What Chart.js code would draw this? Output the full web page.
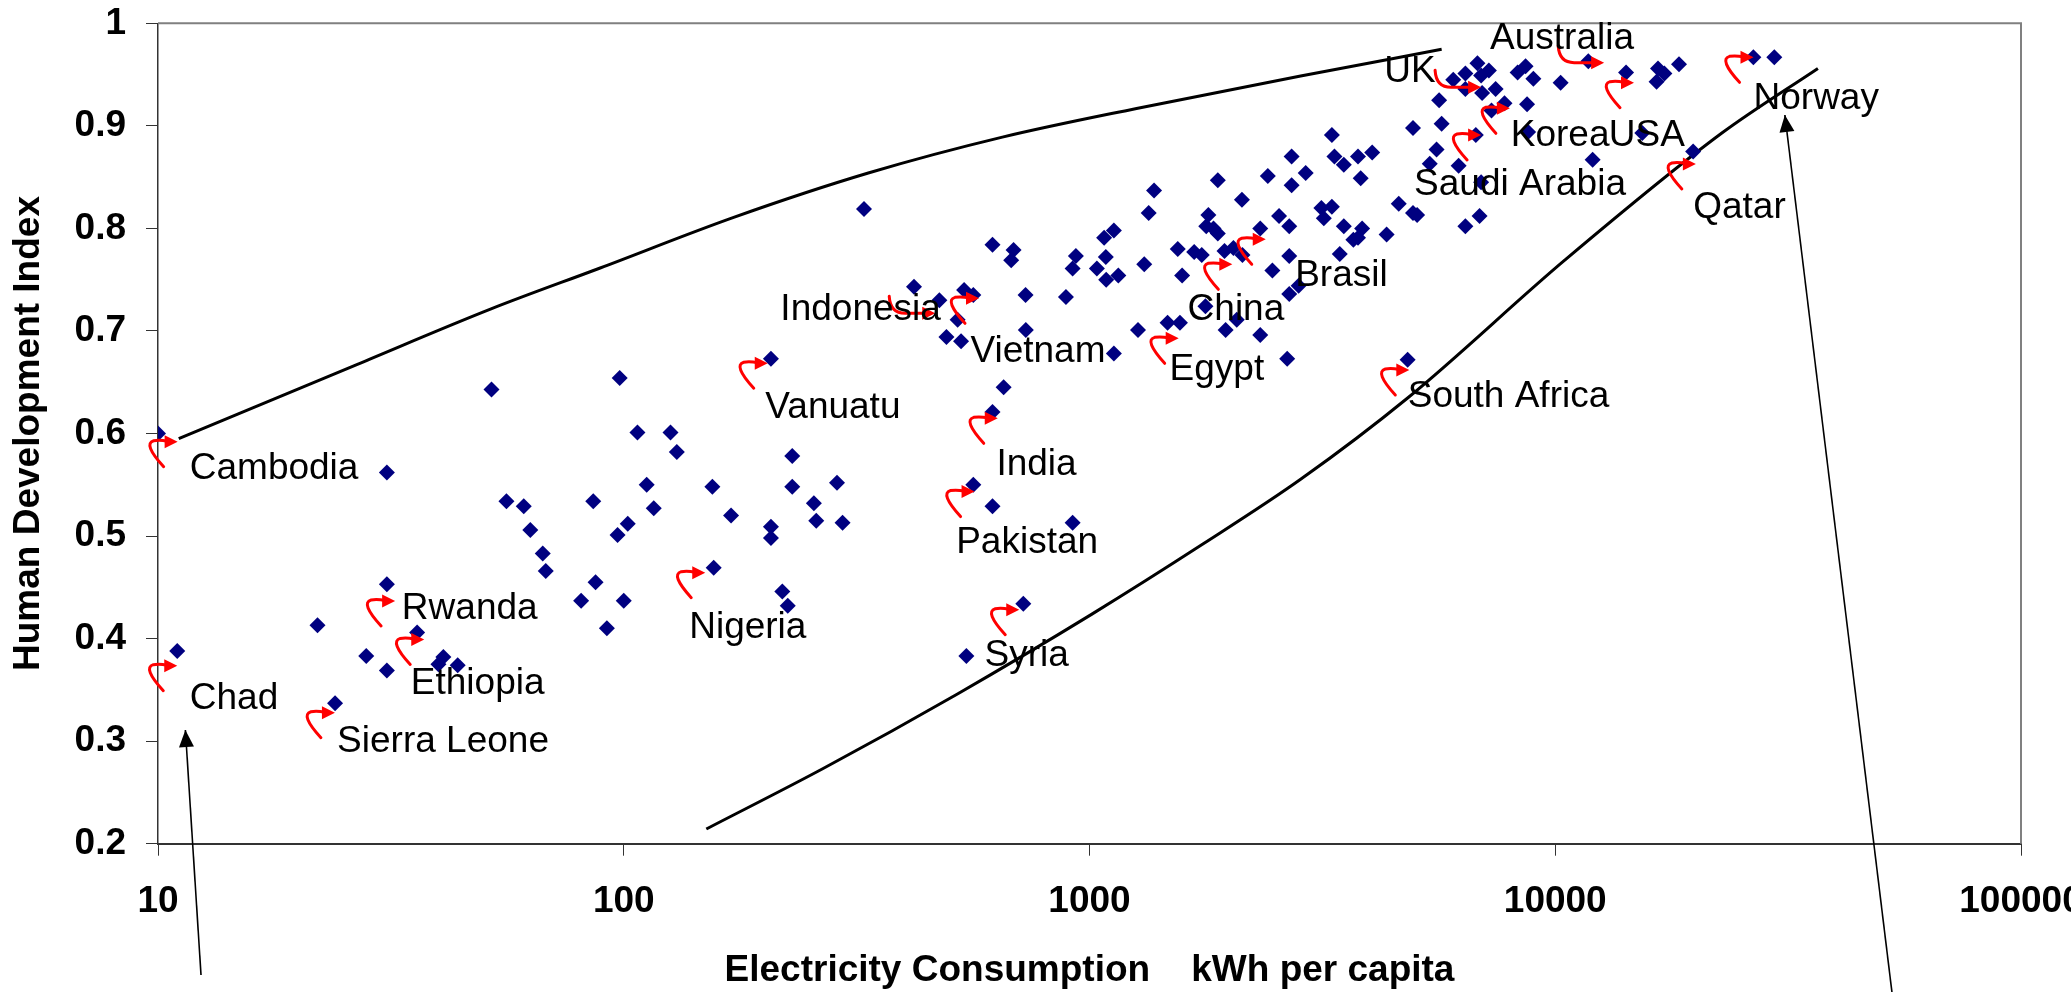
<!DOCTYPE html>
<html>
<head>
<meta charset="utf-8">
<script src="https://cdn.jsdelivr.net/npm/chart.js@4/dist/chart.umd.min.js"></script>
<style>
html,body{margin:0;padding:0;background:#fff;overflow:hidden;}
#wrap{width:2071px;height:992px;position:relative;}
</style>
</head>
<body>
<div id="wrap"><canvas id="c" width="2071" height="992"></canvas></div>
<script>
// ---- data ----
const consumption = [10,11,22,24,28,31,31,31,36,40,41,44,52,56,61,63,67,68,81,86,87,92,97,98,100,102,107,112,116,126,130,155,156,170,207,207,207,219,225,230,230,256,259,287,295,328,
420,476,493,521,530,538,544,563,563,619,619,619,654,679,687,721,729,730,890,920,920,935,1037,1075,1084,1086,1128,1128,1153,1271,1311,1340,1376,1471,1547,1564,1581,1678,1742,1774,1781,1800,1846,1886,1886,1949,1960,2037,2071,2125,2130,2326,2326,2415,2470,2553,2657,2685,2685,2685,2716,2716,2812,2912,3147,3185,3314,3314,3357,3446,3516,3516,3686,3771,3771,3822,3849,4045,4344,4613,4820,4950,4950,5052,5377,5562,5632,5703,6040,6202,6412,6412,6412,6752,6806,6878,6931,6931,6966,7203,7296,7447,7781,8302,8634,8699,8746,8975,10270,11775,12030,14190,15380,16500,16620,17150,18440,19770,26630,29540];
const hdi = [0.600,0.388,0.413,0.337,0.383,0.369,0.453,0.562,0.406,0.375,0.382,0.374,0.643,0.534,0.529,0.506,0.483,0.466,0.437,0.534,0.455,0.410,0.501,0.654,0.437,0.512,0.601,0.550,0.527,0.601,0.582,0.548,0.469,0.520,0.509,0.498,0.673,0.446,0.432,0.578,0.548,0.532,0.515,0.552,0.513,0.819,
0.743,0.730,0.694,0.711,0.690,0.740,0.383,0.735,0.550,0.784,0.621,0.529,0.645,0.769,0.779,0.434,0.735,0.701,0.733,0.761,0.513,0.773,0.761,0.791,0.772,0.750,0.798,0.678,0.754,0.701,0.765,0.815,0.837,0.708,0.780,0.708,0.754,0.777,0.774,0.724,0.802,0.813,0.800,0.795,0.847,0.778,0.701,0.781,0.711,0.828,0.774,0.696,0.800,0.851,0.759,0.812,0.673,0.802,0.773,0.736,0.870,0.842,0.744,0.854,0.820,0.810,0.891,0.821,0.870,0.775,0.862,0.802,0.789,0.870,0.791,0.849,0.800,0.874,0.794,0.824,0.672,0.898,0.815,0.813,0.863,0.877,0.925,0.902,0.945,0.861,0.951,0.936,0.802,0.891,0.961,0.812,0.949,0.845,0.932,0.954,0.915,0.936,0.922,0.952,0.958,0.921,0.894,0.946,0.942,0.963,0.867,0.952,0.893,0.943,0.956,0.951,0.960,0.875,0.967,0.967];

const xTickValues = [10, 100, 1000, 10000, 100000];
const yTickValues = [0.2, 0.3, 0.4, 0.5, 0.6, 0.7, 0.8, 0.9, 1.0];

// envelope curves (hand-read)
const upperX = [11.08, 26.8, 51.9, 89, 172.8, 335, 650, 1262, 2840, 5703];
const upperY = [0.595, 0.6675, 0.7215, 0.7614, 0.811, 0.854, 0.889, 0.917, 0.9486, 0.9746];
const lowerX = [150.4, 268, 520.6, 1010, 1755, 2840, 4820, 10480, 22790, 36640];
const lowerY = [0.2143, 0.2733, 0.346, 0.4236, 0.4924, 0.5553, 0.6346, 0.769, 0.893, 0.956];

// black pointer arrows (tail -> tip)
const chadArrowX = [12.37, 11.45];
const chadArrowY = [0.072, 0.3109];
const norwayArrowX = [52830, 31120];
const norwayArrowY = [0.0554, 0.9106];

// country annotations
const labelNames = ['Cambodia','Chad','Sierra Leone','Rwanda','Ethiopia','Nigeria','Vanuatu','Indonesia','Vietnam','India','Pakistan','Syria','Egypt','China','Brasil','South Africa','Saudi Arabia','Korea','USA','UK','Australia','Qatar','Norway'];
const labelX = [11.70,11.70,24.24,33.39,34.9,138.2,201.4,216.9,555.1,631.2,517.3,595,1486,1624,2764,4822,4977,8024,13030,4292,7244,19780,26650];
const labelY = [0.5556,0.3318,0.2898,0.4187,0.3463,0.4006,0.6148,0.7107,0.6702,0.5595,0.4832,0.3728,0.6525,0.7107,0.7438,0.6255,0.8321,0.8803,0.8803,0.9428,0.9754,0.8097,0.9169];
const hookX = [11.02,11.0,23.98,32.29,37.29,149.6,203.8,466.4,579.1,635.3,566.5,706.6,1554,2026,2390,4860,6931,7990,14760,6931,12735,20040,26650];
const hookY = [0.592,0.3736,0.3277,0.4367,0.3992,0.4643,0.6685,0.7172,0.7318,0.6148,0.5434,0.4282,0.6928,0.765,0.7894,0.6619,0.8911,0.9171,0.9421,0.9376,0.9616,0.8628,0.9668];
const hookKind = ['hook','hook','hook','hook','hook','hook','hook','drop','hook','hook','hook','hook','hook','hook','hook','hook','hook','hook','hook','drop','drop','hook','hook'];

// ---- chart ----
const FONT = '"Liberation Sans", Arial, Helvetica, sans-serif';
const pairs = (xs, ys) => xs.map((x, i) => ({x: x, y: ys[i]}));

const framePlugin = {
  id: 'frame',
  beforeDatasetsDraw(chart) {
    const {ctx, chartArea: a} = chart;
    ctx.save();
    ctx.strokeStyle = '#808080';
    ctx.lineWidth = 2;
    ctx.beginPath();
    ctx.moveTo(a.left, a.top);
    ctx.lineTo(a.right, a.top);
    ctx.lineTo(a.right, a.bottom);
    ctx.stroke();
    ctx.restore();
  }
};

const arrowHeadPlugin = {
  id: 'arrowHeads',
  afterDatasetsDraw(chart) {
    const ctx = chart.ctx;
    chart.data.datasets.forEach((ds, i) => {
      if (!ds.arrowHead) return;
      const pts = chart.getDatasetMeta(i).data;
      const p0 = pts[pts.length - 2], p1 = pts[pts.length - 1];
      const ang = Math.atan2(p1.y - p0.y, p1.x - p0.x);
      const L = 17, W = 7.5;
      ctx.save();
      ctx.fillStyle = '#000';
      ctx.translate(p1.x, p1.y);
      ctx.rotate(ang);
      ctx.beginPath();
      ctx.moveTo(0, 0);
      ctx.lineTo(-L, -W);
      ctx.lineTo(-L, W);
      ctx.closePath();
      ctx.fill();
      ctx.restore();
    });
  }
};

const annotationPlugin = {
  id: 'countryNotes',
  afterDatasetsDraw(chart) {
    const ctx = chart.ctx;
    const xs = chart.scales.x, ys = chart.scales.y;
    ctx.save();
    // red curved arrows
    ctx.strokeStyle = '#ff0000';
    ctx.fillStyle = '#ff0000';
    ctx.lineWidth = 3;
    ctx.lineCap = 'round';
    ctx.lineJoin = 'round';
    hookX.forEach((hx, i) => {
      const tx = xs.getPixelForValue(hx);
      const ty = ys.getPixelForValue(hookY[i]);
      ctx.beginPath();
      if (hookKind[i] === 'drop') {
        ctx.moveTo(tx - 46, ty - 17);
        ctx.quadraticCurveTo(tx - 45, ty, tx - 30, ty);
        ctx.lineTo(tx - 10, ty);
      } else {
        ctx.moveTo(tx - 14, ty + 25);
        ctx.quadraticCurveTo(tx - 35, ty + 2, tx - 24, ty - 1);
        ctx.quadraticCurveTo(tx - 18, ty - 2, tx - 10, ty - 0.5);
      }
      ctx.stroke();
      ctx.beginPath();
      ctx.moveTo(tx, ty);
      ctx.lineTo(tx - 13, ty - 6.5);
      ctx.lineTo(tx - 13, ty + 6.5);
      ctx.closePath();
      ctx.fill();
    });
    // labels
    ctx.fillStyle = '#000';
    ctx.font = '37px ' + FONT;
    ctx.textAlign = 'left';
    ctx.textBaseline = 'alphabetic';
    labelNames.forEach((name, i) => {
      ctx.fillText(name, xs.getPixelForValue(labelX[i]), ys.getPixelForValue(labelY[i]));
    });
    ctx.restore();
  }
};

new Chart(document.getElementById('c'), {
  type: 'scatter',
  data: {
    datasets: [
      {
        label: 'Countries',
        data: pairs(consumption, hdi),
        pointStyle: 'rectRot',
        pointRadius: 8,
        pointHoverRadius: 8,
        backgroundColor: '#000080',
        borderColor: '#000080',
        borderWidth: 0,
        showLine: false
      },
      {
        label: 'upper', data: pairs(upperX, upperY), showLine: true, pointRadius: 0,
        borderColor: '#000', borderWidth: 3, cubicInterpolationMode: 'monotone', fill: false
      },
      {
        label: 'lower', data: pairs(lowerX, lowerY), showLine: true, pointRadius: 0,
        borderColor: '#000', borderWidth: 3, cubicInterpolationMode: 'monotone', fill: false
      },
      {
        label: 'chad', data: pairs(chadArrowX, chadArrowY), showLine: true, pointRadius: 0,
        borderColor: '#000', borderWidth: 1.6, clip: false, arrowHead: true
      },
      {
        label: 'norway', data: pairs(norwayArrowX, norwayArrowY), showLine: true, pointRadius: 0,
        borderColor: '#000', borderWidth: 1.6, clip: false, arrowHead: true
      }
    ]
  },
  options: {
    responsive: false,
    devicePixelRatio: 1,
    animation: false,
    events: [],
    layout: { padding: { left: 0, top: 23.3, right: 50, bottom: 0 } },
    plugins: {
      legend: { display: false },
      tooltip: { enabled: false }
    },
    scales: {
      x: {
        type: 'logarithmic',
        position: 'bottom',
        min: 10,
        max: 100000,
        afterBuildTicks: (s) => { s.ticks = xTickValues.map(v => ({ value: v })); },
        afterFit: (s) => { s.height = 148.3; s.paddingLeft = 0; s.paddingRight = 0; },
        ticks: {
          autoSkip: false, maxRotation: 0, minRotation: 0,
          padding: 24,
          color: '#000',
          font: { family: FONT, size: 37, weight: 'bold' },
          callback: (v) => String(v)
        },
        grid: { display: true, drawOnChartArea: false, drawTicks: true, tickLength: 12, color: '#333', lineWidth: 1 },
        border: { display: true, color: '#333', width: 2 },
        title: {
          display: true,
          text: 'Electricity Consumption    kWh per capita',
          color: '#000',
          font: { family: FONT, size: 37, weight: 'bold', lineHeight: 1.13 },
          padding: { top: 0, bottom: 0 }
        }
      },
      y: {
        type: 'linear',
        min: 0.2,
        max: 1,
        afterBuildTicks: (s) => { s.ticks = yTickValues.map(v => ({ value: v })); },
        afterFit: (s) => { s.width = 158; s.paddingTop = 0; s.paddingBottom = 0; },
        ticks: {
          padding: 20,
          color: '#000',
          font: { family: FONT, size: 37, weight: 'bold' },
          callback: (v) => String(+Number(v).toFixed(1))
        },
        grid: { display: true, drawOnChartArea: false, drawTicks: true, tickLength: 12, color: '#333', lineWidth: 1 },
        border: { display: true, color: '#333', width: 1.5 },
        title: {
          display: true,
          text: 'Human Development Index',
          color: '#000',
          font: { family: FONT, size: 37, weight: 'bold', lineHeight: 1.13 },
          padding: { top: 7.4, bottom: 0 }
        }
      }
    }
  },
  plugins: [framePlugin, arrowHeadPlugin, annotationPlugin]
});
</script>
</body>
</html>
